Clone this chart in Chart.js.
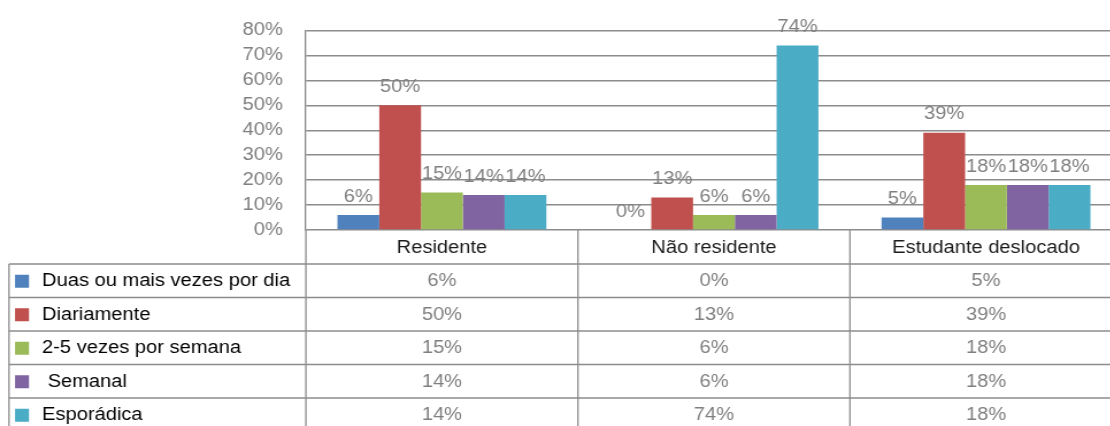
<!DOCTYPE html>
<html>
<head>
<meta charset="utf-8">
<script src="https://cdn.jsdelivr.net/npm/chart.js@4.4.0/dist/chart.umd.min.js"></script>
<style>
  html, body { margin: 0; padding: 0; background: #fff; overflow: hidden; }
  #chart { display: block; }
</style>
</head>
<body>
<canvas id="chart" width="976" height="426" style="width: 1122.4px; height: 426px;"></canvas>
<script>
// Data
const categories = ['Residente', 'Não residente', 'Estudante deslocado'];
const seriesNames = ['Duas ou mais vezes por dia', 'Diariamente', '2-5 vezes por semana', ' Semanal', 'Esporádica'];
const duasOuMais = [6, 0, 5];
const diariamente = [50, 13, 39];
const duasACinco = [15, 6, 18];
const semanal = [14, 6, 18];
const esporadica = [14, 74, 18];
const yTicks = [0, 10, 20, 30, 40, 50, 60, 70, 80];

const seriesValues = [duasOuMais, diariamente, duasACinco, semanal, esporadica];
const seriesColors = ['#4F81BD', '#C0504D', '#9BBB59', '#8064A2', '#4BACC6'];

// the picture is a bit wider than normal, so the canvas is stretched sideways
const SX = 1.15;
const FONT = "'Liberation Sans', Arial, sans-serif";
const LINE = '#8c8c8c';
const GREY_TEXT = '#7f7f7f';

function line(ctx, x1, y1, x2, y2) {
  ctx.beginPath();
  ctx.moveTo(x1, y1);
  ctx.lineTo(x2, y2);
  ctx.stroke();
}

// labels above bars
const barLabels = {
  id: 'barLabels',
  afterDatasetsDraw(chart) {
    const ctx = chart.ctx;
    ctx.save();
    ctx.font = '17.5px ' + FONT;
    ctx.fillStyle = GREY_TEXT;
    ctx.textAlign = 'center';
    ctx.textBaseline = 'alphabetic';
    chart.data.datasets.forEach((ds, i) => {
      chart.getDatasetMeta(i).data.forEach((bar, j) => {
        ctx.fillText(ds.data[j] + '%', bar.x, bar.y - 13.5);
      });
    });
    ctx.restore();
  }
};

// data table under the plot
const dataTable = {
  id: 'dataTable',
  afterDraw(chart) {
    const ctx = chart.ctx;
    const area = chart.chartArea;
    const catW = (area.right - area.left) / categories.length;
    const tableTop = area.bottom;
    const headerBottom = tableTop + 34;
    const rowH = 33.5;
    const legendLeft = 9 / SX;
    const bottom = chart.height + 10;

    ctx.save();
    ctx.strokeStyle = LINE;
    ctx.lineWidth = 1.5;
    for (let r = 0; r <= seriesNames.length; r++) {
      const y = headerBottom + r * rowH;
      line(ctx, legendLeft, y, area.right + 2, y);
    }
    ctx.lineWidth = 1.5 / SX;
    line(ctx, legendLeft, headerBottom, legendLeft, bottom);
    for (let i = 0; i <= categories.length; i++) {
      const x = area.left + i * catW;
      line(ctx, x, tableTop, x, bottom);
    }

    ctx.font = '17.5px ' + FONT;
    ctx.textAlign = 'center';
    ctx.textBaseline = 'middle';
    ctx.fillStyle = '#1a1a1a';
    categories.forEach((c, i) => {
      const x = chart.scales.x.getPixelForValue(i);
      ctx.fillText(c, x, (tableTop + headerBottom) / 2 + 1.5);
    });

    seriesNames.forEach((name, r) => {
      const cy = headerBottom + r * rowH + rowH / 2 + 0.5;
      ctx.fillStyle = seriesColors[r];
      ctx.fillRect(15 / SX, cy - 6.5, 14 / SX, 13);
      ctx.fillStyle = '#000';
      ctx.textAlign = 'left';
      ctx.fillText(name, 42 / SX, cy);
      ctx.fillStyle = GREY_TEXT;
      ctx.textAlign = 'center';
      seriesValues[r].forEach((v, i) => {
        ctx.fillText(v + '%', chart.scales.x.getPixelForValue(i), cy);
      });
    });
    ctx.restore();
  }
};

const ctx = document.getElementById('chart').getContext('2d');
new Chart(ctx, {
  type: 'bar',
  data: {
    labels: categories,
    datasets: seriesNames.map((name, i) => ({
      label: name,
      data: seriesValues[i],
      backgroundColor: seriesColors[i],
      borderWidth: 0,
      categoryPercentage: 0.768,
      barPercentage: 1
    }))
  },
  options: {
    responsive: false,
    animation: false,
    devicePixelRatio: 1,
    layout: { padding: { top: 23.3, left: 0, right: 0, bottom: 0 } },
    plugins: {
      legend: { display: false },
      tooltip: { enabled: false }
    },
    scales: {
      x: {
        ticks: { display: false },
        grid: { display: false },
        border: { display: false },
        afterFit: scale => { scale.height = 426 - 230; }
      },
      y: {
        min: yTicks[0],
        max: yTicks[yTicks.length - 1],
        afterFit: scale => { scale.width = 306 / SX; },
        afterBuildTicks: scale => { scale.ticks = yTicks.map(v => ({ value: v })); },
        ticks: {
          callback: v => v + '%',
          color: GREY_TEXT,
          font: { family: FONT, size: 17.5 },
          padding: 20
        },
        grid: { color: LINE, lineWidth: 1.5, drawTicks: false },
        border: { display: true, color: LINE, width: 1.5 / SX }
      }
    }
  },
  plugins: [barLabels, dataTable]
});
</script>
</body>
</html>
